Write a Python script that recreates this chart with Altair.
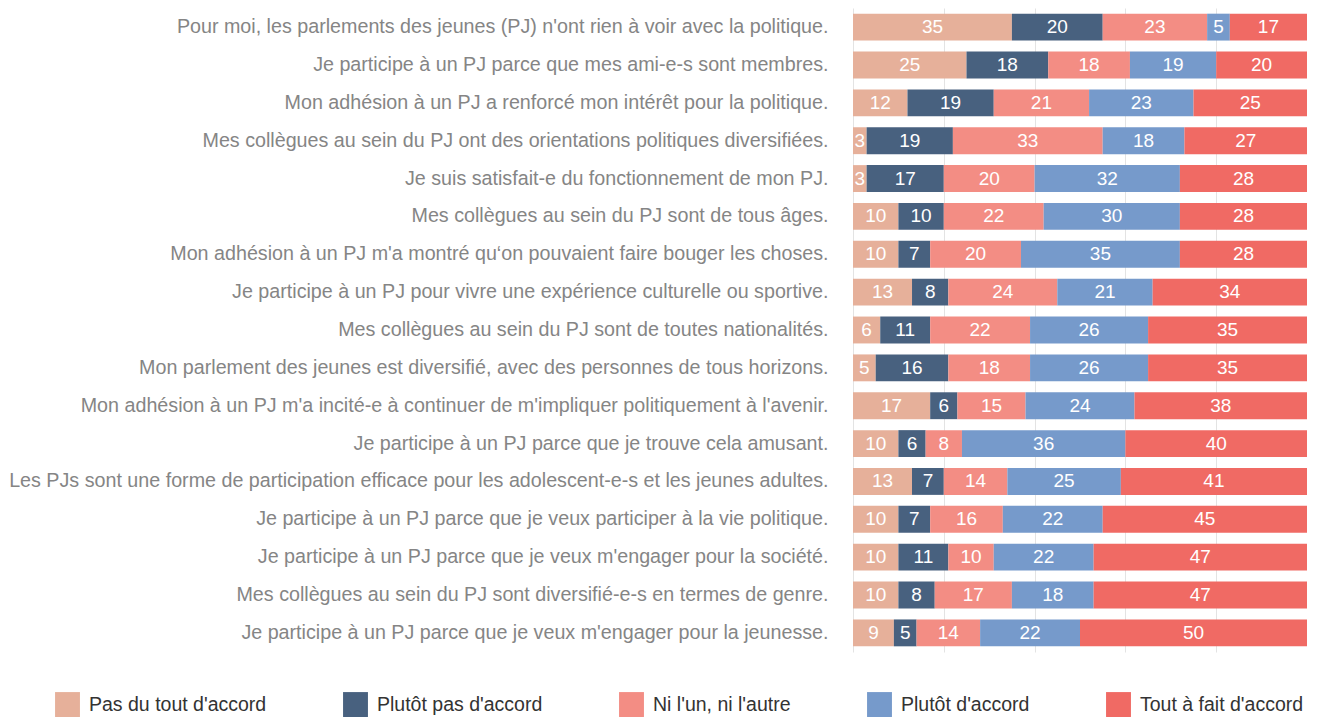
import altair as alt
import pandas as pd

statements = [
    "Pour moi, les parlements des jeunes (PJ) n'ont rien à voir avec la politique.",
    "Je participe à un PJ parce que mes ami-e-s sont membres.",
    "Mon adhésion à un PJ a renforcé mon intérêt pour la politique.",
    "Mes collègues au sein du PJ ont des orientations politiques diversifiées.",
    "Je suis satisfait-e du fonctionnement de mon PJ.",
    "Mes collègues au sein du PJ sont de tous âges.",
    "Mon adhésion à un PJ m'a montré qu‘on pouvaient faire bouger les choses.",
    "Je participe à un PJ pour vivre une expérience culturelle ou sportive.",
    "Mes collègues au sein du PJ sont de toutes nationalités.",
    "Mon parlement des jeunes est diversifié, avec des personnes de tous horizons.",
    "Mon adhésion à un PJ m'a incité-e à continuer de m'impliquer politiquement à l'avenir.",
    "Je participe à un PJ parce que je trouve cela amusant.",
    "Les PJs sont une forme de participation efficace pour les adolescent-e-s et les jeunes adultes.",
    "Je participe à un PJ parce que je veux participer à la vie politique.",
    "Je participe à un PJ parce que je veux m'engager pour la société.",
    "Mes collègues au sein du PJ sont diversifié-e-s en termes de genre.",
    "Je participe à un PJ parce que je veux m'engager pour la jeunesse.",
]

categories = [
    "Pas du tout d'accord",
    "Plutôt pas d'accord",
    "Ni l'un, ni l'autre",
    "Plutôt d'accord",
    "Tout à fait d'accord",
]

pas_du_tout = [35, 25, 12, 3, 3, 10, 10, 13, 6, 5, 17, 10, 13, 10, 10, 10, 9]
plutot_pas = [20, 18, 19, 19, 17, 10, 7, 8, 11, 16, 6, 6, 7, 7, 11, 8, 5]
ni_ni = [23, 18, 21, 33, 20, 22, 20, 24, 22, 18, 15, 8, 14, 16, 10, 17, 14]
plutot = [5, 19, 23, 18, 32, 30, 35, 21, 26, 26, 24, 36, 25, 22, 22, 18, 22]
tout_a_fait = [17, 20, 25, 27, 28, 28, 28, 34, 35, 35, 38, 40, 41, 45, 47, 47, 50]

colors = ["#E6B09A", "#48617F", "#F38D84", "#769ACB", "#F06A64"]

series = [pas_du_tout, plutot_pas, ni_ni, plutot, tout_a_fait]

rows = []
for i, s in enumerate(statements):
    start = 0
    for k, cat in enumerate(categories):
        v = series[k][i]
        rows.append({
            "statement": s,
            "category": cat,
            "order": k,
            "value": v,
            "start": start,
            "end": start + v,
            "mid": start + v / 2,
        })
        start += v
df = pd.DataFrame(rows)

FONT = "Liberation Sans"

y_enc = alt.Y(
    "statement:N",
    sort=statements,
    title=None,
    scale=alt.Scale(paddingInner=0.29, paddingOuter=0.15),
    axis=alt.Axis(
        domain=False,
        ticks=False,
        labelFontSize=19.7,
        labelColor="#858585",
        labelFont=FONT,
        labelLimit=1000,
        labelPadding=25,
    ),
)

x_scale = alt.Scale(domain=[0, 100], nice=False)

bars = alt.Chart(df).mark_bar().encode(
    x=alt.X(
        "start:Q",
        scale=x_scale,
        title=None,
        axis=alt.Axis(
            values=[0, 20, 40, 60, 80, 100],
            labels=False,
            ticks=False,
            domain=False,
            grid=True,
            gridColor="#e3e3e3",
            gridWidth=1,
        ),
    ),
    x2="end:Q",
    y=y_enc,
    color=alt.Color(
        "category:N",
        sort=categories,
        scale=alt.Scale(domain=categories, range=colors),
        legend=alt.Legend(
            title=None,
            orient="none",
            direction="horizontal",
            legendX=-798,
            legendY=684,
            symbolType="square",
            symbolSize=620,
            symbolStrokeWidth=0,
            symbolOpacity=1,
            labelFontSize=19.5,
            labelFont=FONT,
            labelColor="#333333",
            labelOffset=9,
            columnPadding=76,
            labelLimit=400,
        ),
    ),
    order=alt.Order("order:Q"),
)

labels = alt.Chart(df).mark_text(
    color="white", fontSize=19, font=FONT, baseline="middle", align="center"
).encode(
    x=alt.X("mid:Q", scale=x_scale),
    y=alt.Y("statement:N", sort=statements),
    text=alt.Text("value:Q"),
)

chart = (
    alt.layer(bars, labels)
    .properties(width=454, height=644, padding={"left": 0, "top": 0, "right": 0, "bottom": 0})
    .configure_view(stroke=None)
    .configure_axis(grid=False)
)

chart.save("out.html", embed_options={"renderer": "svg", "actions": False})
